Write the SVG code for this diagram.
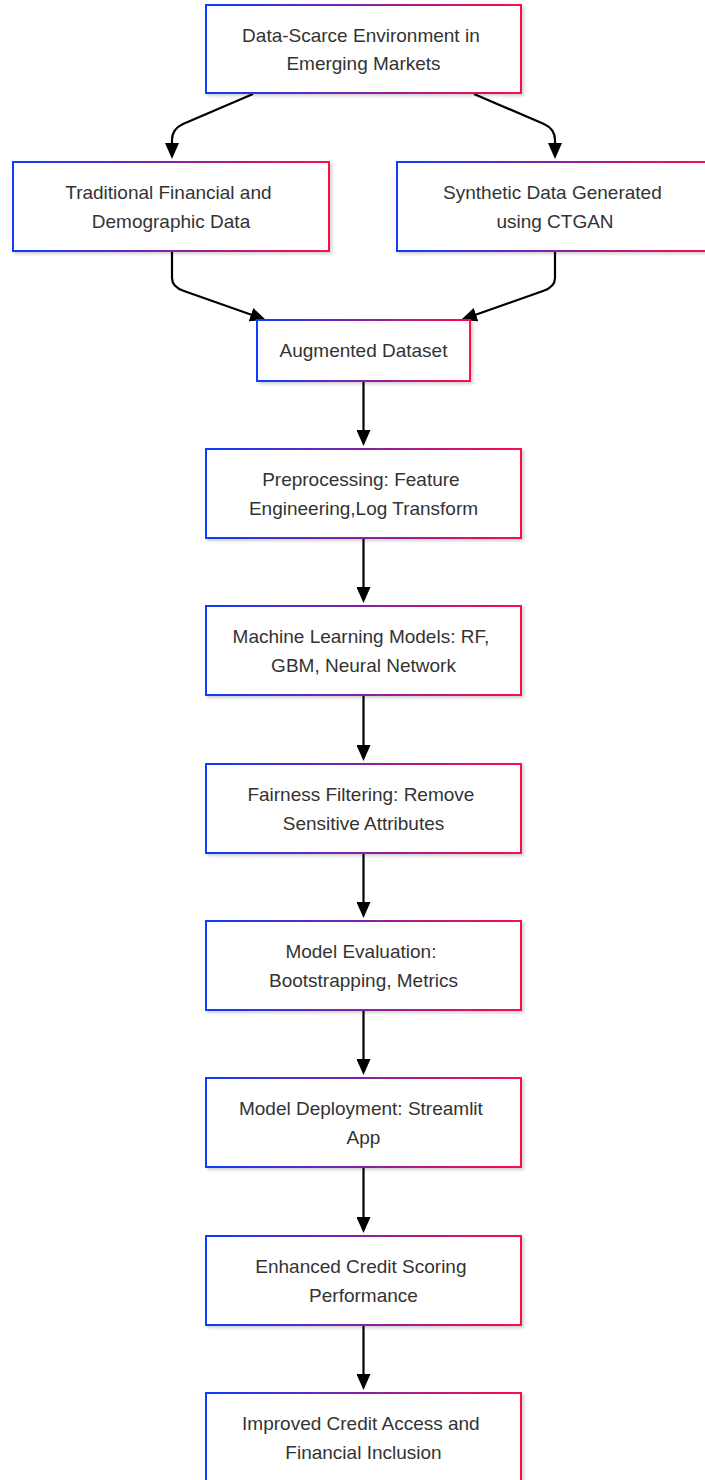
<svg xmlns="http://www.w3.org/2000/svg" width="705" height="1480" viewBox="0 0 705 1480">
  <style>
    .box { fill: #ffffff; stroke: url(#edge); stroke-width: 2; filter: url(#shadow); }
    .label { font-family: "Liberation Sans", Arial, Helvetica, sans-serif; font-size: 19px; fill: #333333; text-anchor: middle; }
    .link { fill: none; stroke: #000000; stroke-width: 2.2; marker-end: url(#arrow); }
  </style>
  <defs>
    <linearGradient id="edge" x1="0" y1="0" x2="1" y2="0">
      <stop offset="0" stop-color="#0a3cff"/>
      <stop offset="1" stop-color="#ff0a4a"/>
    </linearGradient>
    <filter id="shadow" x="-5%" y="-10%" width="115%" height="130%">
      <feDropShadow dx="2" dy="2" stdDeviation="1.5" flood-color="#000000" flood-opacity="0.18"/>
    </filter>
    <marker id="arrow" viewBox="0 0 16 14" refX="8" refY="7" markerWidth="16" markerHeight="14" markerUnits="userSpaceOnUse" orient="auto">
      <path d="M0,0 L16,7 L0,14 z" fill="#000000"/>
    </marker>
  </defs>

  <g id="connectors">
    <path class="link" d="M253,94 L183,124 Q172,129 172,140 L172,151"/>
    <path class="link" d="M474,94 L544,124 Q555,129 555,140 L555,151"/>
    <path class="link" d="M172,252 L172,278 Q172,287 184,291 L258.5,317.3"/>
    <path class="link" d="M555,252 L555,278 Q555,287 543,291 L468.5,317.3"/>
    <path class="link" d="M363.5,381 L363.5,438"/>
    <path class="link" d="M363.5,538 L363.5,595"/>
    <path class="link" d="M363.5,695 L363.5,753"/>
    <path class="link" d="M363.5,853 L363.5,910"/>
    <path class="link" d="M363.5,1010 L363.5,1067"/>
    <path class="link" d="M363.5,1167 L363.5,1225"/>
    <path class="link" d="M363.5,1325 L363.5,1382"/>
  </g>

  <!-- wrapped first lines keep their trailing space, so they sit a little left of centre -->
  <g id="data-scarce">
    <rect class="box" x="206" y="5" width="315" height="88"/>
    <text class="label"><tspan x="360.9" y="41.6">Data-Scarce Environment in</tspan><tspan x="363.5" y="70.1">Emerging Markets</tspan></text>
  </g>

  <g id="traditional-data">
    <rect class="box" x="13" y="162" width="316" height="89"/>
    <text class="label"><tspan x="168.4" y="199.1">Traditional Financial and</tspan><tspan x="171" y="227.6">Demographic Data</tspan></text>
  </g>

  <g id="synthetic-data">
    <rect class="box" x="397" y="162" width="316" height="89"/>
    <text class="label"><tspan x="552.4" y="199.1">Synthetic Data Generated</tspan><tspan x="555" y="227.6">using CTGAN</tspan></text>
  </g>

  <g id="augmented-dataset">
    <rect class="box" x="257" y="320" width="213" height="61"/>
    <text class="label" x="363.5" y="357.3">Augmented Dataset</text>
  </g>

  <g id="preprocessing">
    <rect class="box" x="206" y="449" width="315" height="89"/>
    <text class="label"><tspan x="360.9" y="486.1">Preprocessing: Feature</tspan><tspan x="363.5" y="514.6">Engineering,Log Transform</tspan></text>
  </g>

  <g id="ml-models">
    <rect class="box" x="206" y="606" width="315" height="89"/>
    <text class="label"><tspan x="360.9" y="643.1">Machine Learning Models: RF,</tspan><tspan x="363.5" y="671.6">GBM, Neural Network</tspan></text>
  </g>

  <g id="fairness-filtering">
    <rect class="box" x="206" y="764" width="315" height="89"/>
    <text class="label"><tspan x="360.9" y="801.1">Fairness Filtering: Remove</tspan><tspan x="363.5" y="829.6">Sensitive Attributes</tspan></text>
  </g>

  <g id="model-evaluation">
    <rect class="box" x="206" y="921" width="315" height="89"/>
    <text class="label"><tspan x="360.9" y="958.1">Model Evaluation:</tspan><tspan x="363.5" y="986.6">Bootstrapping, Metrics</tspan></text>
  </g>

  <g id="model-deployment">
    <rect class="box" x="206" y="1078" width="315" height="89"/>
    <text class="label"><tspan x="360.9" y="1115.1">Model Deployment: Streamlit</tspan><tspan x="363.5" y="1143.6">App</tspan></text>
  </g>

  <g id="enhanced-scoring">
    <rect class="box" x="206" y="1236" width="315" height="89"/>
    <text class="label"><tspan x="360.9" y="1273.1">Enhanced Credit Scoring</tspan><tspan x="363.5" y="1301.6">Performance</tspan></text>
  </g>

  <g id="credit-access">
    <rect class="box" x="206" y="1393" width="315" height="89"/>
    <text class="label"><tspan x="360.9" y="1430.1">Improved Credit Access and</tspan><tspan x="363.5" y="1458.6">Financial Inclusion</tspan></text>
  </g>
</svg>
